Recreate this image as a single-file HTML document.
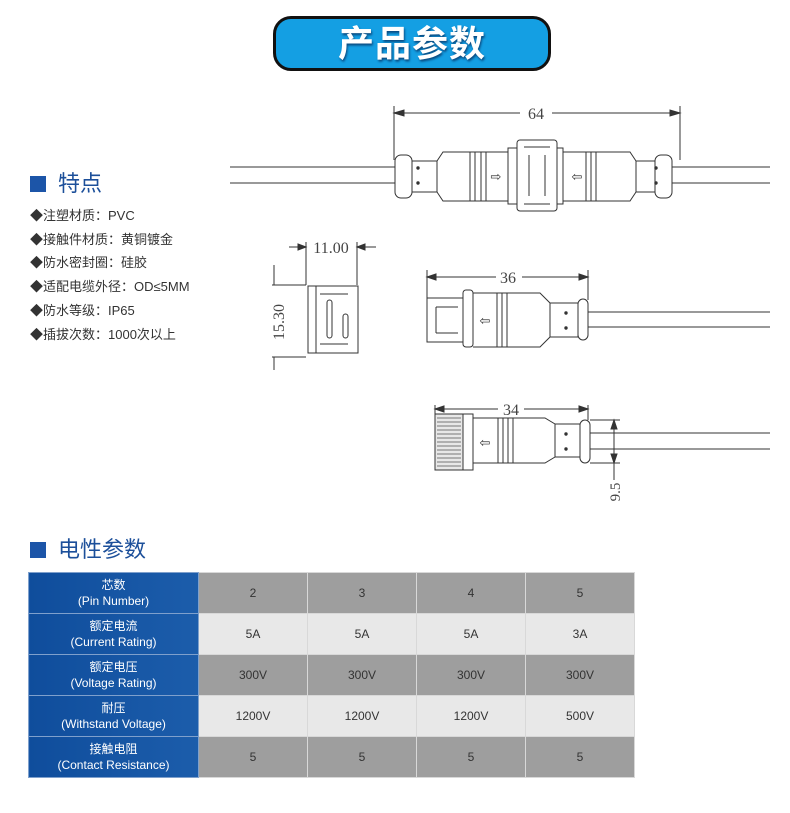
<!DOCTYPE html>
<html><head><meta charset="utf-8"><style>
body{margin:0;width:790px;height:813px;background:#fff;position:relative;overflow:hidden;font-family:"Liberation Sans","Noto Sans CJK SC",sans-serif}
.pill{position:absolute;left:273px;top:16px;width:272px;height:49px;background:#149fe3;border:3px solid #111;border-radius:18px;text-align:center;color:#fff;font-weight:bold;font-size:36px;line-height:49px;letter-spacing:1px;text-shadow:1px 2px 2px #0a4a80}
.h{position:absolute;left:30px;font-size:22px;color:#1c4f9a}
.h i{display:inline-block;width:16px;height:16px;background:#1c55a8;margin-right:12px;vertical-align:-1px}
.li{position:absolute;left:30px;font-size:13px;color:#333}
table{position:absolute;left:28px;top:572px;border-collapse:collapse;font-size:12px}
td{height:40px;padding:0;text-align:center;border:1px solid #d8d8d8;color:#333;line-height:16px}
td.k{width:169px;background:linear-gradient(90deg,#0f4d9c,#1c5dab);color:#fff;border-color:#7fa0cc}
td.v{width:108px}
tr.g td.v{background:#9e9e9e}
tr.l td.v{background:#e8e8e8}
</style></head><body>
<div class="pill">产品参数</div>
<div class="h" style="top:166px"><i></i>特点</div>
<div class="li" style="top:205px">◆注塑材质：PVC</div>
<div class="li" style="top:229px">◆接触件材质：黄铜镀金</div>
<div class="li" style="top:252px">◆防水密封圈：硅胶</div>
<div class="li" style="top:276px">◆适配电缆外径：OD≤5MM</div>
<div class="li" style="top:300px">◆防水等级：IP65</div>
<div class="li" style="top:324px">◆插拔次数：1000次以上</div>
<div class="h" style="top:532px"><i></i>电性参数</div>
<svg width="790" height="813" style="position:absolute;left:0;top:0" fill="none" stroke="#333" stroke-width="1" font-family="Liberation Serif,serif">
<line x1="394" y1="113" x2="680" y2="113"/><line x1="394" y1="106" x2="394" y2="160"/><line x1="680" y1="106" x2="680" y2="160"/>
<path d="M394 113l10-3v6zM680 113l-10-3v6z" fill="#333"/>
<rect x="520" y="104" width="32" height="18" fill="#fff" stroke="none"/>
<text x="536" y="119" font-size="16" fill="#444" stroke="none" text-anchor="middle">64</text>
<line x1="230" y1="167" x2="395" y2="167"/><line x1="230" y1="183" x2="395" y2="183"/>
<line x1="672" y1="167" x2="770" y2="167"/><line x1="672" y1="183" x2="770" y2="183"/>
<rect x="395" y="155" width="17" height="43" rx="6"/>
<rect x="412" y="161" width="25" height="31"/>
<circle cx="418" cy="168" r="1.2" fill="#333"/><circle cx="418" cy="183" r="1.2" fill="#333"/>
<path d="M437 161L443 152H508V201H443L437 192"/>
<line x1="470" y1="152" x2="470" y2="201"/><line x1="475" y1="152" x2="475" y2="201"/><line x1="481" y1="152" x2="481" y2="201"/><line x1="486" y1="152" x2="486" y2="201"/>
<text x="496" y="181" font-size="13" fill="#333" stroke="none" text-anchor="middle">⇨</text>
<rect x="508" y="148" width="9" height="56"/>
<rect x="517" y="140" width="40" height="71" rx="3"/>
<line x1="524" y1="147" x2="550" y2="147"/><line x1="524" y1="204" x2="550" y2="204"/>
<line x1="529" y1="155" x2="529" y2="196"/><line x1="545" y1="155" x2="545" y2="196"/>
<rect x="557" y="148" width="6" height="56"/>
<path d="M563 152H630L636 161V192L630 201H563"/>
<line x1="586" y1="152" x2="586" y2="201"/><line x1="591" y1="152" x2="591" y2="201"/><line x1="596" y1="152" x2="596" y2="201"/>
<text x="577" y="181" font-size="13" fill="#333" stroke="none" text-anchor="middle">⇦</text>
<rect x="636" y="161" width="19" height="31"/>
<circle cx="656" cy="168" r="1.2" fill="#333"/><circle cx="656" cy="183" r="1.2" fill="#333"/>
<rect x="655" y="155" width="17" height="43" rx="6"/>
<line x1="289" y1="247" x2="306" y2="247"/><line x1="357" y1="247" x2="376" y2="247"/>
<path d="M306 247l-8-3v6zM357 247l8-3v6z" fill="#333"/>
<line x1="306" y1="242" x2="306" y2="285"/><line x1="357" y1="242" x2="357" y2="285"/>
<text x="331" y="253" font-size="16" fill="#444" stroke="none" text-anchor="middle">11.00</text>
<line x1="274" y1="265" x2="274" y2="285"/><line x1="274" y1="357" x2="274" y2="370"/>
<line x1="272" y1="285" x2="306" y2="285"/><line x1="272" y1="357" x2="306" y2="357"/>
<text transform="translate(284 322) rotate(-90)" font-size="16" fill="#444" stroke="none" text-anchor="middle">15.30</text>
<rect x="308" y="286" width="50" height="67"/>
<line x1="316" y1="286" x2="316" y2="353"/>
<line x1="320" y1="294" x2="348" y2="294"/><line x1="320" y1="344" x2="348" y2="344"/>
<rect x="327" y="300" width="5" height="38" rx="2.5"/><rect x="343" y="314" width="5" height="24" rx="2.5"/>
<line x1="427" y1="277" x2="588" y2="277"/><line x1="427" y1="270" x2="427" y2="300"/><line x1="588" y1="270" x2="588" y2="300"/>
<path d="M427 277l9-3v6zM588 277l-9-3v6z" fill="#333"/>
<rect x="496" y="269" width="26" height="16" fill="#fff" stroke="none"/>
<text x="508" y="283" font-size="16" fill="#444" stroke="none" text-anchor="middle">36</text>
<path d="M463 298H427V342H463"/><path d="M436 307V333M436 307h22M436 333h22"/>
<rect x="463" y="290" width="10" height="57" rx="3"/>
<path d="M473 293H540L550 303V337L540 347H473"/>
<line x1="497" y1="293" x2="497" y2="347"/><line x1="502" y1="293" x2="502" y2="347"/><line x1="507" y1="293" x2="507" y2="347"/>
<text x="485" y="325" font-size="13" fill="#333" stroke="none" text-anchor="middle">⇦</text>
<rect x="550" y="303" width="28" height="34"/>
<circle cx="566" cy="313" r="1.2" fill="#333"/><circle cx="566" cy="328" r="1.2" fill="#333"/>
<rect x="578" y="299" width="10" height="41" rx="5"/>
<line x1="588" y1="312" x2="770" y2="312"/><line x1="588" y1="327" x2="770" y2="327"/>
<line x1="435" y1="409" x2="588" y2="409"/><line x1="435" y1="405" x2="435" y2="414"/><line x1="588" y1="405" x2="588" y2="420"/>
<path d="M435 409l9-3v6zM588 409l-9-3v6z" fill="#333"/>
<rect x="498" y="401" width="26" height="16" fill="#fff" stroke="none"/>
<text x="511" y="415" font-size="16" fill="#444" stroke="none" text-anchor="middle">34</text>
<rect x="435" y="414" width="28" height="56" fill="#e8e8e8"/>
<path d="M437 418h24M437 422h24M437 426h24M437 430h24M437 434h24M437 438h24M437 442h24M437 446h24M437 450h24M437 454h24M437 458h24M437 462h24M437 466h24" stroke="#777"/>
<rect x="463" y="414" width="10" height="56"/>
<path d="M473 418H545L555 424V457L545 463H473"/>
<line x1="498" y1="418" x2="498" y2="463"/><line x1="503" y1="418" x2="503" y2="463"/><line x1="508" y1="418" x2="508" y2="463"/><line x1="513" y1="418" x2="513" y2="463"/>
<text x="485" y="447" font-size="13" fill="#333" stroke="none" text-anchor="middle">⇦</text>
<rect x="555" y="424" width="25" height="33"/>
<circle cx="566" cy="434" r="1.2" fill="#333"/><circle cx="566" cy="449" r="1.2" fill="#333"/>
<rect x="580" y="420" width="10" height="43" rx="5"/>
<line x1="590" y1="433" x2="770" y2="433"/><line x1="590" y1="449" x2="770" y2="449"/>
<line x1="590" y1="420" x2="620" y2="420"/><line x1="590" y1="463" x2="620" y2="463"/>
<line x1="614" y1="420" x2="614" y2="480"/>
<path d="M614 420l-3 9h6zM614 463l-3-9h6z" fill="#333"/>
<text transform="translate(620 492) rotate(-90)" font-size="15" fill="#444" stroke="none" text-anchor="middle">9.5</text>
</svg>
<table>
<tr class="g"><td class="k">芯数<br>(Pin Number)</td><td class="v">2</td><td class="v">3</td><td class="v">4</td><td class="v">5</td></tr>
<tr class="l"><td class="k">额定电流<br>(Current Rating)</td><td class="v">5A</td><td class="v">5A</td><td class="v">5A</td><td class="v">3A</td></tr>
<tr class="g"><td class="k">额定电压<br>(Voltage Rating)</td><td class="v">300V</td><td class="v">300V</td><td class="v">300V</td><td class="v">300V</td></tr>
<tr class="l"><td class="k">耐压<br>(Withstand Voltage)</td><td class="v">1200V</td><td class="v">1200V</td><td class="v">1200V</td><td class="v">500V</td></tr>
<tr class="g"><td class="k">接触电阻<br>(Contact Resistance)</td><td class="v">5</td><td class="v">5</td><td class="v">5</td><td class="v">5</td></tr>
</table>
</body></html>
